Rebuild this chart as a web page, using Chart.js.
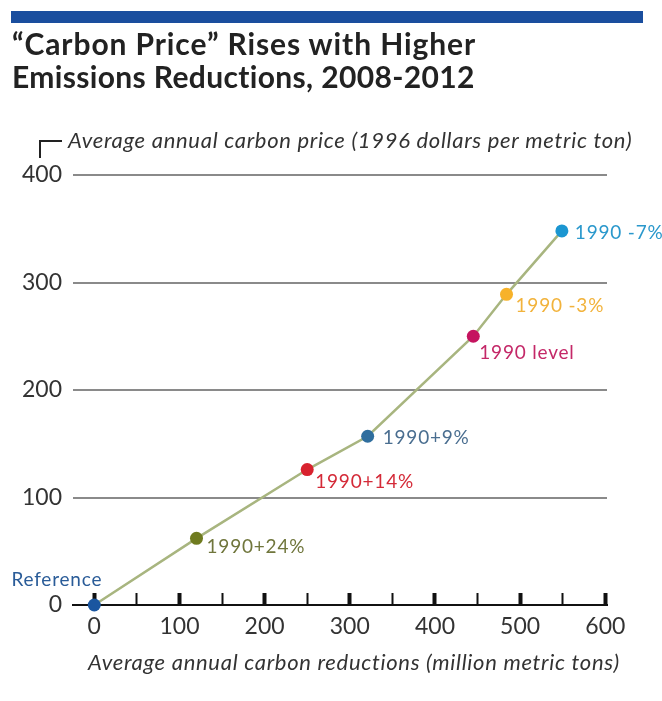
<!DOCTYPE html>
<html>
<head>
<meta charset="utf-8">
<script src="https://cdn.jsdelivr.net/npm/chart.js@4.4.0/dist/chart.umd.min.js"></script>
<style>
  body { margin: 0; background: #fff; }
  #wrap { position: relative; width: 662px; height: 701px; overflow: hidden; }
  #bar { position: absolute; left: 11px; top: 11px; width: 632px; height: 12px; background: #1a4e9e; }
  #title { position: absolute; left: 12px; top: 27px; margin: 0; font: bold 30px Lato, sans-serif; line-height: 33px; color: #222; }
  #title .l1 { letter-spacing: 0.9px; }
  #title .l2 { letter-spacing: 0.35px; }
  canvas { position: absolute; left: 0; top: 0; }
</style>
</head>
<body>
<div id="wrap">
  <canvas id="chart" width="662" height="701"></canvas>
  <div id="bar"></div>
  <h1 id="title"><span class="l1">“Carbon Price” Rises with Higher</span><br><span class="l2">Emissions Reductions, 2008-2012</span></h1>
</div>
<script>
// data
const scenarios = ['Reference', '1990+24%', '1990+14%', '1990+9%', '1990 level', '1990 -3%', '1990 -7%'];
const reductions = [0, 120, 250, 321, 445, 484, 549];   // million metric tons
const prices = [0, 62, 126, 157, 250, 289, 348];         // 1996 $ per metric ton
const xTicks = [0, 50, 100, 150, 200, 250, 300, 350, 400, 450, 500, 550, 600];
const yTicks = [0, 100, 200, 300, 400];

const dotColors = ['#1a56a0', '#6f7b1f', '#d8222e', '#2f6e9e', '#c5145f', '#f7b22a', '#1b96d1'];
const textColors = ['#2a5c98', '#70763c', '#d42a38', '#4a6e90', '#c42868', '#f2b33c', '#2a98cc'];
// label offset from its dot (dx, dy)
const labelOffsets = [[8, -25], [10, 9], [8, 12], [15, 2], [6, 17], [9, 12], [13, 2]];

const FONT = 'Lato, sans-serif';

const labelsPlugin = {
    id: 'labelsPlugin',
    afterDraw(chart) {
        const ctx = chart.ctx;
        const xs = chart.scales.x, ys = chart.scales.y;
        ctx.save();

        // y axis title with little bracket
        ctx.strokeStyle = '#222';
        ctx.lineWidth = 2;
        ctx.beginPath();
        ctx.moveTo(40, 158);
        ctx.lineTo(40, 141);
        ctx.lineTo(62, 141);
        ctx.stroke();
        ctx.fillStyle = '#333';
        ctx.font = 'italic 22px ' + FONT;
        ctx.letterSpacing = '0.7px';
        ctx.textBaseline = 'alphabetic';
        ctx.textAlign = 'left';
        ctx.fillText('Average annual carbon price (1996 dollars per metric ton)', 68, 148);

        // x axis title
        ctx.fillText('Average annual carbon reductions (million metric tons)', 88, 670);

        // point labels
        ctx.font = '19px ' + FONT;
        ctx.letterSpacing = '0.8px';
        ctx.textBaseline = 'middle';
        scenarios.forEach((name, i) => {
            const px = xs.getPixelForValue(reductions[i]);
            const py = ys.getPixelForValue(prices[i]);
            ctx.fillStyle = textColors[i];
            ctx.textAlign = i === 0 ? 'right' : 'left';
            ctx.fillText(name, px + labelOffsets[i][0], py + labelOffsets[i][1]);
        });
        ctx.restore();
    }
};

new Chart(document.getElementById('chart').getContext('2d'), {
    type: 'scatter',
    data: {
        datasets: [{
            data: reductions.map((r, i) => ({ x: r, y: prices[i] })),
            showLine: true,
            borderColor: '#a8b57f',
            borderWidth: 2.5,
            pointRadius: 6.5,
            pointHoverRadius: 6.5,
            pointBorderWidth: 0,
            pointBackgroundColor: dotColors,
            clip: false
        }]
    },
    options: {
        responsive: false,
        animation: false,
        layout: { padding: { top: 175, right: 55, left: 0, bottom: 0 } },
        plugins: { legend: { display: false }, tooltip: { enabled: false } },
        scales: {
            x: {
                type: 'linear',
                min: -25,
                max: 602,
                afterFit: s => { s.height = 96; },
                afterBuildTicks: s => { s.ticks = xTicks.map(v => ({ value: v })); },
                border: { display: true, color: '#111', width: 2 },
                grid: {
                    drawOnChartArea: false,
                    drawTicks: true,
                    tickLength: -12,
                    tickColor: '#111',
                    tickWidth: c => (c.tick && c.tick.value % 100 === 0) ? 4 : 2
                },
                ticks: {
                    autoSkip: false,
                    maxRotation: 0,
                    padding: 20,
                    color: '#333',
                    font: { family: FONT, size: 23 },
                    callback: v => v % 100 === 0 ? v : ''
                }
            },
            y: {
                min: 0,
                max: 400,
                afterFit: s => { s.width = 73; },
                afterBuildTicks: s => { s.ticks = yTicks.map(v => ({ value: v })); },
                border: { display: false },
                grid: {
                    drawTicks: false,
                    lineWidth: 2,
                    color: c => (c.tick && c.tick.value === 0) ? 'rgba(0,0,0,0)' : '#8a8a8a'
                },
                ticks: {
                    padding: 11,
                    color: '#333',
                    font: { family: FONT, size: 23 }
                }
            }
        }
    },
    plugins: [labelsPlugin]
});
</script>
</body>
</html>
